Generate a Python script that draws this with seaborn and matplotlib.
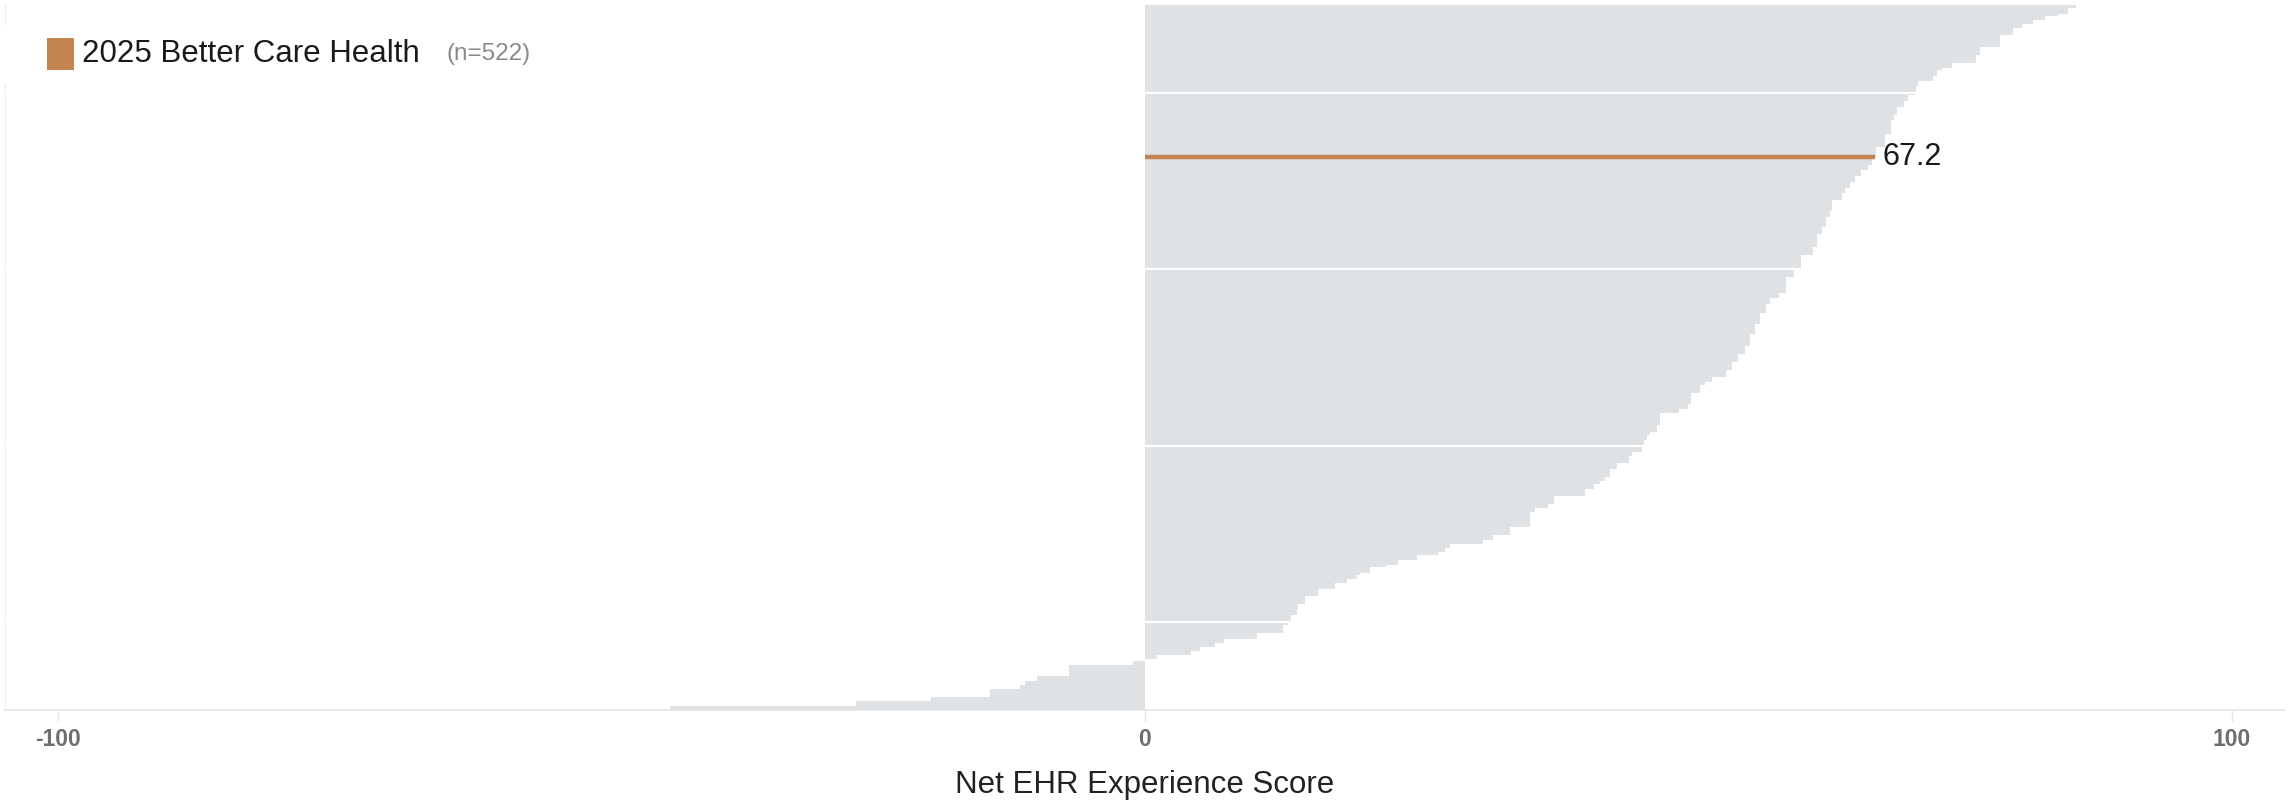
import numpy as np
import pandas as pd
import matplotlib
matplotlib.use("Agg")
from matplotlib import pyplot as plt
from matplotlib.patches import Rectangle
import seaborn as sns

# step values of the sorted score distribution (top to bottom) and how many orgs sit on each step
step_scores = [85.7, 84.9, 84.0, 82.8, 81.7, 80.7, 79.9, 78.7, 76.8, 76.5,
               74.3, 73.3, 72.9, 72.5, 71.1, 70.9, 70.2, 69.8, 69.2, 68.9,
               68.6, 68.1, 67.3, 67.2, 66.9, 66.5, 65.9, 65.3, 64.9, 64.4,
               64.1, 63.2, 63.0, 62.7, 62.3, 61.8, 61.5, 60.4, 59.7, 59.0,
               58.3, 57.5, 57.1, 56.6, 56.1, 55.7, 55.2, 54.6, 54.0, 53.5,
               52.2, 51.5, 51.1, 50.2, 50.0, 49.1, 47.4, 47.1, 46.5, 46.2,
               45.9, 45.7, 44.8, 44.5, 43.4, 42.8, 42.3, 41.9, 41.3, 40.5,
               37.6, 37.1, 35.9, 35.4, 33.6, 32.0, 31.1, 28.1, 27.6, 27.0,
               25.0, 23.3, 22.2, 20.7, 19.8, 19.5, 18.6, 17.5, 15.9, 14.7,
               14.1, 14.0, 13.4, 13.2, 12.7, 10.3, 7.3, 6.4, 5.1, 4.2,
               1.1, 0.0, -1.1, -7.0, -9.9, -11.0, -11.5, -14.3, -19.7, -26.6,
               -43.7]
step_counts = [2, 4, 2, 3, 3, 3, 5, 9, 6, 6,
               3, 2, 4, 4, 4, 6, 5, 4, 6, 4,
               10, 10, 7, 1, 5, 4, 4, 5, 4, 4,
               5, 8, 5, 7, 5, 10, 6, 10, 6, 12,
               4, 4, 7, 8, 7, 9, 6, 6, 6, 5,
               4, 2, 6, 8, 4, 3, 9, 5, 2, 4,
               5, 4, 3, 5, 4, 6, 3, 2, 4, 5,
               6, 3, 3, 11, 6, 4, 3, 3, 3, 2,
               4, 3, 2, 4, 2, 3, 3, 4, 5, 6,
               4, 4, 5, 3, 6, 4, 3, 3, 3, 3,
               3, 2, 3, 8, 4, 3, 3, 6, 3, 3,
               3]

highlight_name = "2025 Better Care Health"
highlight_score = 67.2
xticks = [-100, 0, 100]
xlabel = "Net EHR Experience Score"

scores = np.repeat(step_scores, step_counts)
n = len(scores)
df = pd.DataFrame({"rank": np.arange(n), "score": scores})
hi_idx = int(np.where(np.isclose(scores, highlight_score))[0][0])

bar_color = "#dfe2e5"
accent = "#c4844f"
font = ["Liberation Sans", "DejaVu Sans"]

sns.set_theme(style="white")
plt.rcParams["font.family"] = font

fig = plt.figure(figsize=(22.9, 8.08), dpi=100)
ax = fig.add_axes([5 / 2290, 1 - 710 / 808, 2280 / 2290, 705 / 808])

# bars slightly taller than one slot so neighbours overlap and no seams show
sns.barplot(data=df, x="score", y="rank", orient="h", width=1.6,
            color=bar_color, saturation=1, linewidth=0, ax=ax)

ax.set_ylim(n - 0.5, -0.5)
ax.set_xlim(-104.9, 104.9)

# white guide lines across the bars
ax.set_yticks([n * f - 0.5 for f in (0.125, 0.375, 0.625, 0.875)])
ax.set_yticklabels([])
ax.tick_params(axis="y", length=0)
ax.grid(axis="y", color="white", linewidth=1.6)
ax.set_axisbelow(False)
for line in ax.get_ygridlines():
    line.set_zorder(3)

# highlighted org
ax.plot([0, highlight_score], [hi_idx, hi_idx], color=accent, lw=3.2,
        solid_capstyle="butt", zorder=4)
ax.text(highlight_score + 0.7, hi_idx, f"{highlight_score:.1f}",
        va="center", ha="left", fontsize=22, color="#1a1a1a", zorder=5)

ax.set_xticks(xticks)
ax.set_xticklabels([str(t) for t in xticks], fontsize=16.5, fontweight="bold",
                   color="#6e6e6e")
ax.tick_params(axis="x", length=8, width=1, color="#e4e4e4", pad=5, bottom=True)
ax.set_xlabel(xlabel, fontsize=22.5, color="#222222", labelpad=14)
ax.set_ylabel("")

for side in ("top", "right"):
    ax.spines[side].set_visible(False)
ax.spines["left"].set_color("#eeeeee")
ax.spines["bottom"].set_color("#e6e6e6")
ax.spines["left"].set_linewidth(1)
ax.spines["bottom"].set_linewidth(1.2)

# legend box
fig.add_artist(Rectangle((0, 1 - 83 / 808), 560 / 2290, 58 / 808,
                         transform=fig.transFigure, facecolor="white",
                         edgecolor="none", zorder=6))
fig.add_artist(Rectangle((47 / 2290, 1 - 70 / 808), 27 / 2290, 32 / 808,
                         transform=fig.transFigure, facecolor=accent,
                         edgecolor="none", zorder=7))
fig.text(82 / 2290, 1 - 54 / 808, highlight_name, fontsize=22.5,
         color="#1a1a1a", va="center", ha="left", zorder=8)
fig.text(446 / 2290, 1 - 54 / 808, f"(n={n})", fontsize=17.5,
         color="#8a8a8a", va="center", ha="left", zorder=8)

fig.savefig("out.png", dpi=100)
